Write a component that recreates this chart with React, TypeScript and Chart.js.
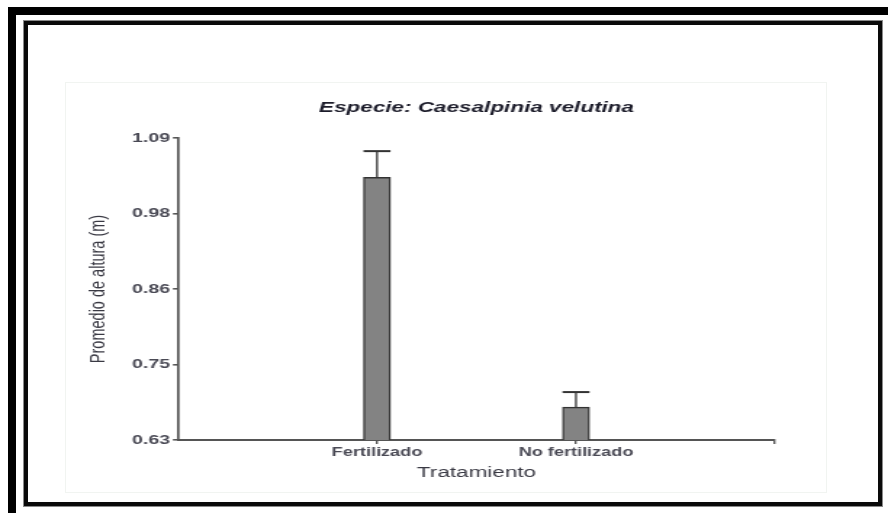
import React, { useEffect, useRef } from "react";
import { Chart, registerables } from "chart.js";

Chart.register(...registerables);

// Treatment groups and their mean heights (m) with standard errors
const categories = ["Fertilizado", "No fertilizado"];
const categoryPositions = [1, 2];
const meanHeights = [1.03, 0.68];
const errorValues = [0.04, 0.023];

// Axis ticks
const yTickValues = [0.63, 0.745, 0.86, 0.975, 1.09];
const yTickLabels = ["0.63", "0.75", "0.86", "0.98", "1.09"];
const xTickValues = [1, 2, 3];
const xTickLabels = [...categories, ""];

const chartTitle = "Especie: Caesalpinia velutina";
const xAxisTitle = "Tratamiento";
const yAxisTitle = "Promedio de altura (m)";

// The plot is laid out on a narrower canvas and widened horizontally
const PAGE_W = 888;
const PAGE_H = 513;
const CANVAS_W = 612;
const STRETCH = PAGE_W / CANVAS_W;

const FONT = "'Liberation Sans', Arial, Helvetica, sans-serif";

const errorBarPlugin = {
  id: "errorBars",
  afterDatasetsDraw(chart: any) {
    const meta = chart.getDatasetMeta(0);
    const yScale = chart.scales.y;
    const ctx = chart.ctx;
    ctx.save();
    ctx.strokeStyle = "#333333";
    meta.data.forEach((bar: any, i: number) => {
      const top = yScale.getPixelForValue(meanHeights[i] + errorValues[i]);
      const half = bar.width / 2;
      ctx.lineWidth = 1.3;
      ctx.beginPath();
      ctx.moveTo(bar.x, bar.y);
      ctx.lineTo(bar.x, top);
      ctx.stroke();
      ctx.lineWidth = 2;
      ctx.beginPath();
      ctx.moveTo(bar.x - half, top);
      ctx.lineTo(bar.x + half, top);
      ctx.stroke();
    });
    ctx.restore();
  },
};

export default function App() {
  const canvasRef = useRef<HTMLCanvasElement | null>(null);

  useEffect(() => {
    if (!canvasRef.current) return;
    const chart = new Chart(canvasRef.current, {
      type: "bar",
      data: {
        datasets: [
          {
            data: categoryPositions.map((x, i) => ({ x, y: meanHeights[i] })),
            backgroundColor: "#838383",
            borderColor: "#333333",
            borderWidth: 1.4,
            barThickness: 18.6,
          },
        ],
      },
      options: {
        responsive: false,
        animation: false,
        layout: { padding: { left: 40, right: 77.9, top: 20, bottom: 0 } },
        plugins: {
          legend: { display: false },
          tooltip: { enabled: false },
          title: {
            display: true,
            text: chartTitle,
            fullSize: false,
            color: "#1c1c2a",
            font: { family: FONT, size: 15.5, weight: "bold", style: "italic" },
            padding: { top: 78.7, bottom: 20.7 },
          },
        },
        scales: {
          x: {
            type: "linear",
            min: 0,
            max: 3,
            offset: false,
            afterBuildTicks: (scale: any) => {
              scale.ticks = xTickValues.map((value) => ({ value }));
            },
            afterFit: (scale: any) => {
              scale.height = PAGE_H - 440;
            },
            ticks: {
              autoSkip: false,
              maxRotation: 0,
              padding: 1.5,
              color: "#4a4a55",
              font: { family: FONT, size: 12.5, weight: "bold" },
              callback: (_v: any, index: number) => xTickLabels[index],
            },
            grid: {
              display: true,
              offset: false,
              drawOnChartArea: false,
              drawTicks: true,
              tickLength: 4,
              color: "#555555",
              lineWidth: 1.4,
            },
            border: { display: true, color: "#555555", width: 2 },
            title: {
              display: true,
              text: xAxisTitle,
              color: "#3a3a44",
              font: { family: FONT, size: 15.5 },
              padding: { top: 0, bottom: 30.7 },
            },
          },
          y: {
            type: "linear",
            min: 0.63,
            max: 1.09,
            afterBuildTicks: (scale: any) => {
              scale.ticks = yTickValues.map((value) => ({ value }));
            },
            afterFit: (scale: any) => {
              scale.width = 82.7;
            },
            ticks: {
              autoSkip: false,
              padding: 2,
              color: "#4a4a55",
              font: { family: FONT, size: 13.5, weight: "bold" },
              callback: (_v: any, index: number) => yTickLabels[index],
            },
            grid: {
              display: true,
              drawOnChartArea: false,
              drawTicks: true,
              tickLength: 3.5,
              color: "#555555",
              lineWidth: 1.6,
            },
            border: { display: true, color: "#555555", width: 1.7 },
            title: {
              display: true,
              text: yAxisTitle,
              color: "#3a3a44",
              font: { family: FONT, size: 14.5 },
              padding: { top: 18.8, bottom: 0 },
            },
          },
        },
      },
      plugins: [errorBarPlugin],
    });
    return () => chart.destroy();
  }, []);

  const box = (style: React.CSSProperties): React.CSSProperties => ({
    position: "absolute",
    boxSizing: "border-box",
    ...style,
  });

  return (
    <div style={{ position: "absolute", left: 0, top: 0, width: PAGE_W, height: PAGE_H, background: "#ffffff", overflow: "hidden" }}>
      {/* faint plot frame */}
      <div style={box({ left: 65, top: 82, width: 827 - 65, height: 493 - 82, border: "1px solid #f1f4f1" })} />
      <div
        style={{
          position: "absolute",
          left: 0,
          top: 0,
          width: CANVAS_W,
          height: PAGE_H,
          transform: `scaleX(${STRETCH})`,
          transformOrigin: "0 0",
        }}
      >
        <canvas ref={canvasRef} width={CANVAS_W} height={PAGE_H} />
      </div>
      {/* outer frame, partly cut by the page edge */}
      <div style={box({ left: 8, top: 7, width: PAGE_W - 8, height: 8, background: "#000" })} />
      <div style={box({ left: 8, top: 7, width: 8, height: PAGE_H - 7, background: "#000" })} />
      {/* inner frame */}
      <div
        style={box({
          left: 24,
          top: 21,
          width: 882 - 24,
          height: 506 - 21,
          border: "4px solid #0a0a0a",
          outline: "1px solid #8a8a8a",
        })}
      />
    </div>
  );
}
